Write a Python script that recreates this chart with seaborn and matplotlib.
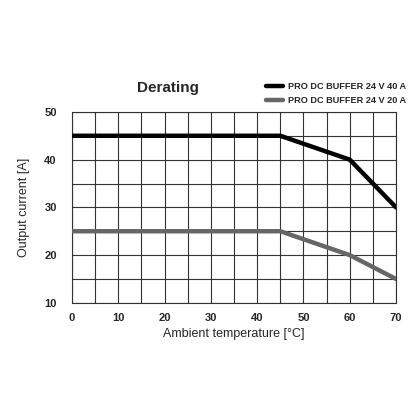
import numpy as np
import pandas as pd
import seaborn as sns
import matplotlib.pyplot as plt
from matplotlib.lines import Line2D

temp_40a = [0, 45, 60, 70]
current_40a = [45, 45, 40, 30]
temp_20a = [0, 45, 60, 70]
current_20a = [25, 25, 20, 15]
labels = ["PRO DC BUFFER 24 V 40 A", "PRO DC BUFFER 24 V 20 A"]
x_ticks = [0, 10, 20, 30, 40, 50, 60, 70]
y_ticks = [10, 20, 30, 40, 50]

sns.set_style("white")
plt.rcParams['font.family'] = ['Liberation Sans', 'DejaVu Sans']

df = pd.concat([
    pd.DataFrame({"temp": temp_40a, "current": current_40a, "model": labels[0]}),
    pd.DataFrame({"temp": temp_20a, "current": current_20a, "model": labels[1]}),
])
colors = {labels[0]: "#000000", labels[1]: "#666666"}

fig = plt.figure(figsize=(4.16, 4.16), dpi=100)
ax = fig.add_axes([0.173, 0.272, 0.779, 0.459])

sns.lineplot(data=df, x="temp", y="current", hue="model", palette=colors,
             linewidth=3.2, legend=False, ax=ax, zorder=3)

ax.set_xlim(0, 70)
ax.set_ylim(10, 50)
ax.set_xticks(np.arange(0, 71, 5))
ax.set_yticks(np.arange(10, 51, 5))
ax.set_xticklabels([str(v) if v in x_ticks else "" for v in np.arange(0, 71, 5)],
                   fontweight="bold", fontsize=8)
ax.set_yticklabels([str(v) if v in y_ticks else "" for v in np.arange(10, 51, 5)],
                   fontweight="bold", fontsize=8)
ax.tick_params(axis="y", length=0, pad=11)
ax.tick_params(axis="x", length=0, pad=7)
ax.grid(True, color="#333333", linewidth=0.8)
for s in ax.spines.values():
    s.set_color("#333333")
    s.set_linewidth(0.8)

ax.set_xlabel("Ambient temperature [°C]", fontsize=9, labelpad=4)
ax.set_ylabel("Output current [A]", fontsize=9, labelpad=10)

fig.text(0.404, 0.788, "Derating", fontsize=11, fontweight="bold", ha="center", va="center")

handles = [Line2D([0], [0], color=colors[l], linewidth=3.2) for l in labels]
fig.legend(handles, labels, loc="center left", bbox_to_anchor=(0.628, 0.775),
           frameon=False, prop={"weight": "bold", "size": 6.6},
           handlelength=1.9, handletextpad=0.5, labelspacing=0.55, borderpad=0)

fig.savefig("out.png", dpi=100)
